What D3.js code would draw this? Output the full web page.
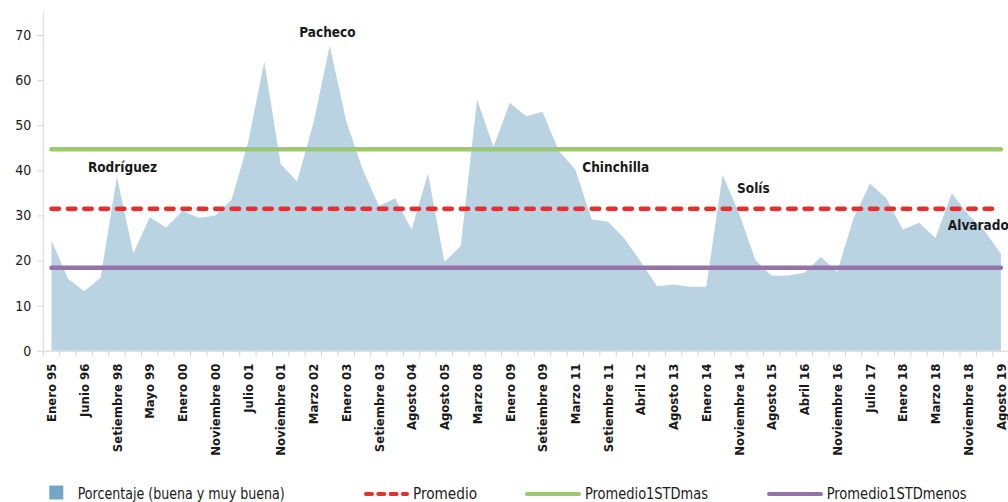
<!DOCTYPE html>
<html>
<head>
<meta charset="utf-8">
<script src="https://cdn.jsdelivr.net/npm/d3@7"></script>
<style>
  html, body { margin: 0; padding: 0; background: #fff; }
  svg { display: block; }
  text { font-family: "DejaVu Sans Condensed", "DejaVu Sans", sans-serif; fill: #1a1a1a; }
</style>
</head>
<body>
<svg id="chart" width="1008" height="502"></svg>
<script>
// Survey rounds, one label every second round
const tickLabels = [
  "Enero 95", "Junio 96", "Setiembre 98", "Mayo 99", "Enero 00", "Noviembre 00",
  "Julio 01", "Noviembre 01", "Marzo 02", "Enero 03", "Setiembre 03", "Agosto 04",
  "Agosto 05", "Marzo 08", "Enero 09", "Setiembre 09", "Marzo 11", "Setiembre 11",
  "Abril 12", "Agosto 13", "Enero 14", "Noviembre 14", "Agosto 15", "Abril 16",
  "Noviembre 16", "Julio 17", "Enero 18", "Marzo 18", "Noviembre 18", "Agosto 19"
];

// Porcentaje que califica la gestión como buena o muy buena
const porcentaje = [
  24.5, 16.0, 13.2, 16.2, 38.6, 21.6, 29.6, 27.3, 31.0, 29.5,
  29.9, 33.5, 46.0, 64.1, 41.4, 37.5, 50.5, 67.6, 51.0, 40.3,
  32.1, 33.8, 26.8, 39.3, 19.7, 23.2, 55.7, 45.2, 55.0, 52.0,
  53.0, 44.3, 40.2, 29.1, 28.6, 24.9, 19.7, 14.3, 14.7, 14.2,
  14.2, 39.0, 30.5, 20.1, 16.6, 16.7, 17.3, 20.8, 17.5, 29.4,
  37.1, 33.8, 26.9, 28.4, 25.0, 34.9, 30.2, 26.6, 21.5
];

const promedio = 31.5;
const promedio1STDmas = 44.7;
const promedio1STDmenos = 18.4;

const yTicks = [0, 10, 20, 30, 40, 50, 60, 70];

// Presidential terms: name, round index and level of the label baseline
const presidentes = [
  { nombre: "Rodríguez", ronda: 4.34, nivel: 39.6 },
  { nombre: "Pacheco", ronda: 16.86, nivel: 69.6 },
  { nombre: "Chinchilla", ronda: 34.47, nivel: 39.7 },
  { nombre: "Solís", ronda: 42.88, nivel: 34.9 },
  { nombre: "Alvarado", ronda: 56.62, nivel: 26.8 }
];

const colors = {
  area: "#72a6c4",
  promedio: "#e2302a",
  mas: "#9cc872",
  menos: "#9472aa",
  axis: "#d6d6d6"
};

const svg = d3.select("#chart");
const plotLeft = 43.3, plotRight = 1009.1, plotTop = 12.5, plotBottom = 350.7;

const idx = d3.range(porcentaje.length);
const x = d3.scaleBand().domain(idx).range([plotLeft, plotRight]).paddingInner(0).paddingOuter(0);
const bw = x.bandwidth();
const xc = d3.scaleLinear().domain([0, idx.length - 1])
  .range([x(0) + bw / 2, x(idx.length - 1) + bw / 2]);
const y = d3.scaleLinear().domain([0, 75]).range([plotBottom, plotTop]);

// Area
const area = d3.area().x((d, i) => xc(i)).y0(y(0)).y1(d => y(d));
svg.append("path").datum(porcentaje)
  .attr("d", area)
  .attr("fill", colors.area)
  .attr("fill-opacity", 0.49);

// Reference lines
const flat = v => idx.map(() => v);
const line = d3.line().x((d, i) => xc(i)).y(d => y(d));

svg.append("path").datum(flat(promedio1STDmas))
  .attr("d", line).attr("fill", "none")
  .attr("stroke", colors.mas).attr("stroke-width", 4.5).attr("stroke-linecap", "round");
svg.append("path").datum(flat(promedio1STDmenos))
  .attr("d", line).attr("fill", "none")
  .attr("stroke", colors.menos).attr("stroke-width", 4.5).attr("stroke-linecap", "round");
svg.append("path").datum(flat(promedio))
  .attr("d", line).attr("fill", "none")
  .attr("stroke", colors.promedio).attr("stroke-width", 4.5).attr("stroke-linecap", "round")
  .attr("stroke-dasharray", `7.5,${(bw - 7.5).toFixed(2)}`);

// Y axis
const yAxis = svg.append("g").attr("transform", `translate(${plotLeft},0)`)
  .call(d3.axisLeft(y).tickValues(yTicks).tickSize(6).tickPadding(6).tickFormat(d3.format("d")));
yAxis.select(".domain").attr("stroke", colors.axis).attr("d", `M0,${plotTop}V${plotBottom}`);
yAxis.selectAll(".tick line").attr("stroke", colors.axis);
yAxis.selectAll(".tick text")
  .style("font-family", '"DejaVu Sans Condensed", "DejaVu Sans", sans-serif')
  .style("font-size", "14px").attr("fill", "#1a1a1a");

// X axis
const xAxis = svg.append("g").attr("transform", `translate(0,${plotBottom})`)
  .call(d3.axisBottom(x).tickSize(0).tickFormat(i => i % 2 === 0 ? tickLabels[i / 2] : ""));
xAxis.select(".domain").attr("stroke", colors.axis).attr("d", `M${plotLeft},0.5H1008`);
xAxis.selectAll(".tick text")
  .attr("transform", "rotate(-90)")
  .attr("x", -13).attr("y", 0).attr("dy", "0.36em")
  .attr("text-anchor", "end")
  .style("font-family", '"DejaVu Sans Condensed", "DejaVu Sans", sans-serif')
  .style("font-size", "13px").style("font-weight", "bold").attr("fill", "#1a1a1a");
xAxis.selectAll(".boundary")
  .data(d3.range(idx.length + 1))
  .join("line")
  .attr("class", "boundary")
  .attr("x1", i => plotLeft + i * bw).attr("x2", i => plotLeft + i * bw)
  .attr("y1", 0.5).attr("y2", 6)
  .attr("stroke", colors.axis);

// President labels
svg.append("g").selectAll("text")
  .data(presidentes)
  .join("text")
  .attr("x", d => xc(d.ronda))
  .attr("y", d => y(d.nivel))
  .attr("text-anchor", "middle")
  .style("font-family", '"DejaVu Sans Condensed", "DejaVu Sans", sans-serif')
  .style("font-size", "13.5px")
  .style("font-weight", "bold")
  .text(d => d.nombre);

// Legend
const legend = svg.append("g");
const ly = 494;
legend.append("rect").attr("x", 49.3).attr("y", 485.5).attr("width", 14).attr("height", 14)
  .attr("fill", colors.area);
const legendText = (xPos, label, len) => legend.append("text")
  .attr("x", xPos).attr("y", 499)
  .attr("textLength", len).attr("lengthAdjust", "spacingAndGlyphs")
  .style("font-size", "16px")
  .text(label);
legendText(77.7, "Porcentaje (buena y muy buena)", 207);
legend.append("line").attr("x1", 366).attr("x2", 407).attr("y1", ly).attr("y2", ly)
  .attr("stroke", colors.promedio).attr("stroke-width", 4).attr("stroke-linecap", "round")
  .attr("stroke-dasharray", "6,6.3");
legendText(413, "Promedio", 64);
legend.append("line").attr("x1", 527).attr("x2", 579).attr("y1", ly).attr("y2", ly)
  .attr("stroke", colors.mas).attr("stroke-width", 4).attr("stroke-linecap", "round");
legendText(585, "Promedio1STDmas", 123);
legend.append("line").attr("x1", 769).attr("x2", 821).attr("y1", ly).attr("y2", ly)
  .attr("stroke", colors.menos).attr("stroke-width", 4).attr("stroke-linecap", "round");
legendText(826.7, "Promedio1STDmenos", 140);
</script>
</body>
</html>
